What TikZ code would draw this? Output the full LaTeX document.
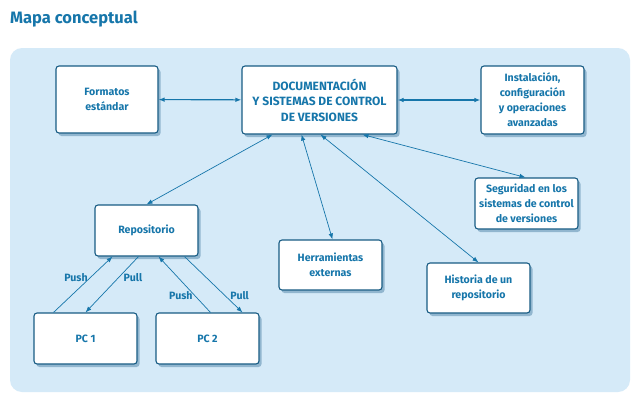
\documentclass[tikz,border=0pt]{standalone}
\usepackage{fontspec}
\setmainfont{Fira Sans}
\usetikzlibrary{positioning, arrows.meta, shadows}
\definecolor{mapblue}{RGB}{22,118,170}
\definecolor{mapedge}{RGB}{24,92,132}
\definecolor{mapfill}{RGB}{213,234,248}
\definecolor{mapshadow}{RGB}{90,140,175}

\begin{document}
\begin{tikzpicture}[
        x=1pt, y=-1pt,
        concept/.style={rectangle, rounded corners=3pt, draw=mapedge, line width=1.1pt, fill=white,
            text=mapblue, font=\bfseries\fontsize{10.6}{15}\selectfont, align=center,
            minimum width=103pt, minimum height=51pt, inner sep=2pt,
            drop shadow={shadow xshift=2.5pt, shadow yshift=-3pt, fill=mapshadow, opacity=0.55}},
        arrow/.style={{Latex[length=6pt,width=4.5pt]}-{Latex[length=6pt,width=4.5pt]}, draw=mapblue, line width=0.7pt},
        onearrow/.style={-{Latex[length=6pt,width=4.5pt]}, draw=mapblue, line width=0.7pt},
        flow/.style={font=\bfseries\fontsize{10.6}{12}\selectfont, text=mapblue, inner sep=2pt}
    ]
        \useasboundingbox (0,0) rectangle (643,402);
        \fill[white] (0,0) rectangle (643,402);

        % Title and panel
        \node[anchor=west, text=mapblue, font=\bfseries\fontsize{16.5}{20}\selectfont, inner sep=0pt] (title) at (10,19) {Mapa conceptual};
        \fill[mapfill, rounded corners=12pt] (10,48) rectangle (630,392);

        % Nodes
        \node[concept, minimum width=102pt, minimum height=67pt] (fmt) at (107,99.5) {Formatos\\estándar};
        \node[concept, minimum width=155pt, minimum height=68pt, font=\bfseries\fontsize{12}{15.5}\selectfont] (doc) at (319.5,100) {DOCUMENTACIÓN\\Y SISTEMAS DE CONTROL\\DE VERSIONES};
        \node[concept, minimum height=68pt] (inst) at (532.5,100) {Instalación,\\configuración\\y operaciones\\avanzadas};
        \node[concept] (seg) at (526.5,203.5) {Seguridad en los\\sistemas de control\\de versiones};
        \node[concept] (repo) at (146.5,230.5) {Repositorio};
        \node[concept, minimum height=50pt] (herr) at (330.5,265) {Herramientas\\externas};
        \node[concept, minimum height=50pt] (hist) at (478.5,288) {Historia de un\\repositorio};
        \node[concept] (pc1) at (85.5,338.5) {PC 1};
        \node[concept] (pc2) at (207.5,338.5) {PC 2};

        % Paths
        \draw[arrow, line width=1.1pt] (fmt) -- (doc);
        \draw[arrow, line width=1.1pt] (doc) -- (inst);
        \draw[arrow] ([xshift=-47pt]doc.south) -- (repo.north);
        \draw[arrow] ([xshift=-18pt]doc.south) -- ([xshift=2pt]herr.north);
        \draw[arrow] ([xshift=1pt]doc.south) -- (hist.north);
        \draw[arrow] ([xshift=43pt]doc.south) -- ([xshift=-1pt]seg.north);

        \draw[onearrow] ([xshift=-32pt]pc1.north) -- node[flow, pos=0.62, left] {Push} ([xshift=-34pt]repo.south);
        \draw[onearrow] ([xshift=-8pt]repo.south) -- node[flow, pos=0.38, right, xshift=3pt] {Pull} (pc1.north);
        \draw[onearrow] ([xshift=3pt]pc2.north) -- node[flow, pos=0.3, left] {Push} ([xshift=12pt]repo.south);
        \draw[onearrow] ([xshift=38pt]repo.south) -- node[flow, pos=0.7, right, xshift=3pt] {Pull} ([xshift=35pt]pc2.north);
    \end{tikzpicture}
\end{document}
